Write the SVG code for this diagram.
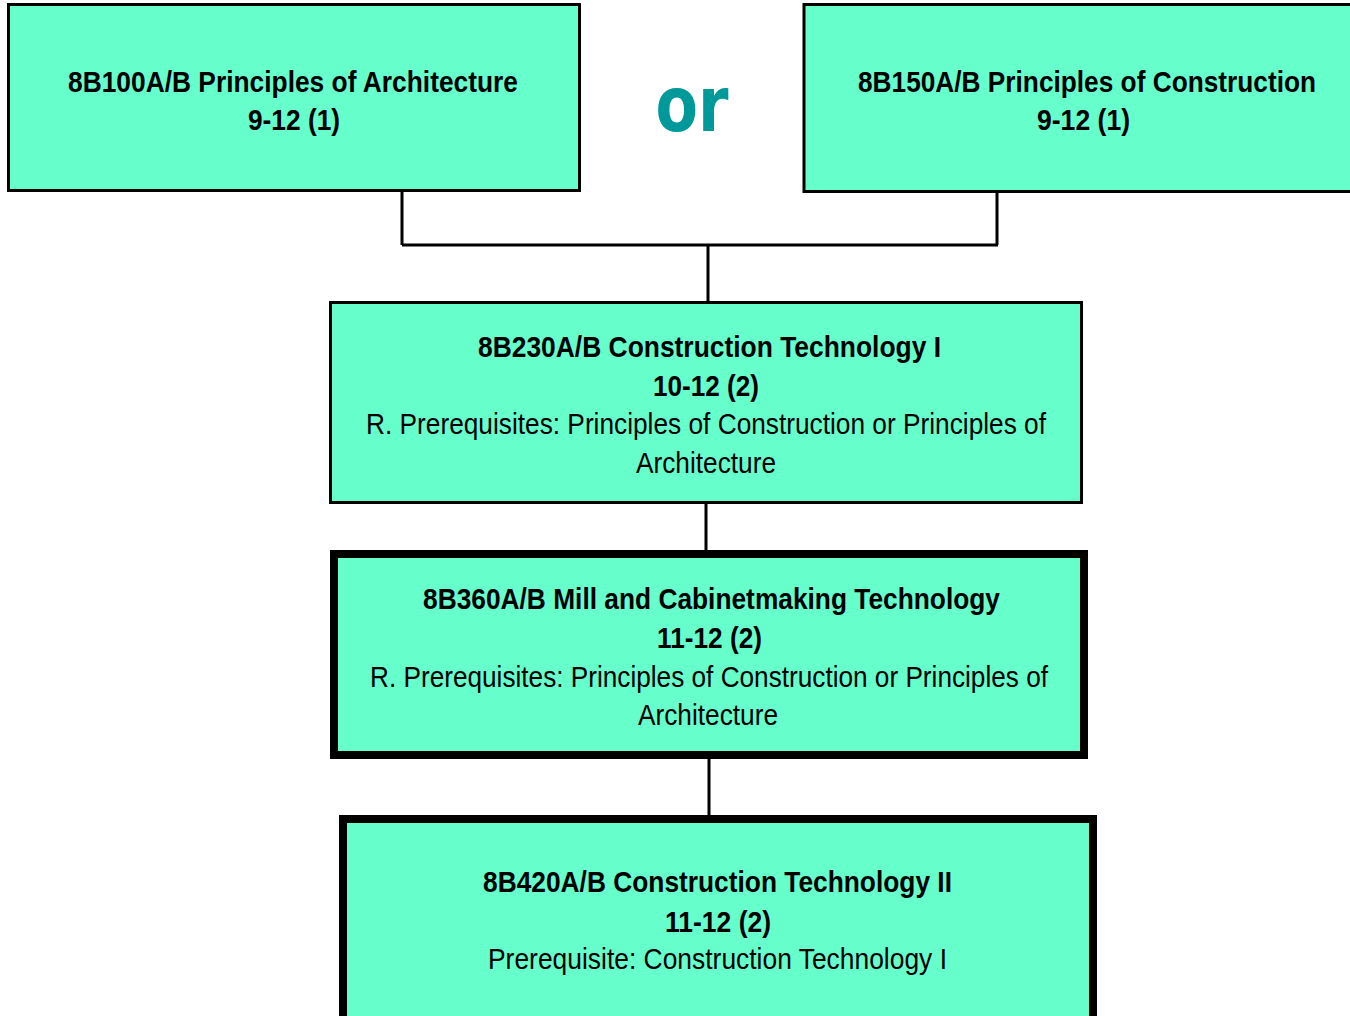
<svg xmlns="http://www.w3.org/2000/svg" width="1350" height="1016" viewBox="0 0 1350 1016">
<style>
.box{fill:#66FFCC;stroke:#000;}
.thin{stroke-width:3;}
.thick{stroke-width:8;}
text{font-family:"Liberation Sans Narrow","Arial Narrow","Liberation Sans",Arial,sans-serif;font-size:30px;fill:#000;text-anchor:middle;}
.b{font-weight:bold;}
.or{font-family:"DejaVu Sans",Verdana,sans-serif;font-weight:bold;font-size:76px;fill:#009999;}
.conn{stroke:#000;stroke-width:3;fill:none;}
</style>
<rect width="1350" height="1016" fill="#fff"/>
<g id="connectors">
<path class="conn" d="M402 192 V245 M997 193 V245 M402 245 H998 M708 245 V301 M706 504 V550 M709 759 V815"/>
</g>
<g id="node-arch">
<rect class="box thin" x="8.5" y="4.5" width="571" height="186"/>
<text class="b" x="293" y="92" textLength="450" lengthAdjust="spacingAndGlyphs">8B100A/B Principles of Architecture</text>
<text class="b" x="294" y="130" textLength="92" lengthAdjust="spacingAndGlyphs">9-12 (1)</text>
</g>
<g id="or-label">
<text class="or" x="692" y="131" textLength="73" lengthAdjust="spacingAndGlyphs">or</text>
</g>
<g id="node-constr">
<rect class="box thin" x="804" y="4.5" width="580" height="187"/>
<text class="b" x="1087" y="92" textLength="458" lengthAdjust="spacingAndGlyphs">8B150A/B Principles of Construction</text>
<text class="b" x="1083.5" y="130" textLength="93" lengthAdjust="spacingAndGlyphs">9-12 (1)</text>
</g>
<g id="node-ct1">
<rect class="box thin" x="330.5" y="302.5" width="751" height="200"/>
<text class="b" x="709.5" y="357" textLength="463" lengthAdjust="spacingAndGlyphs">8B230A/B Construction Technology I</text>
<text class="b" x="706" y="396" textLength="106" lengthAdjust="spacingAndGlyphs">10-12 (2)</text>
<text x="706" y="434" textLength="680" lengthAdjust="spacingAndGlyphs">R. Prerequisites: Principles of Construction or Principles of</text>
<text x="706" y="473" textLength="140" lengthAdjust="spacingAndGlyphs">Architecture</text>
</g>
<g id="node-mill">
<rect class="box thick" x="334" y="554" width="750" height="201"/>
<text class="b" x="711.5" y="609" textLength="577" lengthAdjust="spacingAndGlyphs">8B360A/B Mill and Cabinetmaking Technology</text>
<text class="b" x="709.5" y="648" textLength="105" lengthAdjust="spacingAndGlyphs">11-12 (2)</text>
<text x="709" y="687" textLength="678" lengthAdjust="spacingAndGlyphs">R. Prerequisites: Principles of Construction or Principles of</text>
<text x="708" y="725" textLength="140" lengthAdjust="spacingAndGlyphs">Architecture</text>
</g>
<g id="node-ct2">
<rect class="box thick" x="343" y="819" width="750" height="220"/>
<text class="b" x="717.5" y="892" textLength="469" lengthAdjust="spacingAndGlyphs">8B420A/B Construction Technology II</text>
<text class="b" x="718" y="932" textLength="106" lengthAdjust="spacingAndGlyphs">11-12 (2)</text>
<text x="717.5" y="969" textLength="459" lengthAdjust="spacingAndGlyphs">Prerequisite: Construction Technology I</text>
</g>
</svg>
